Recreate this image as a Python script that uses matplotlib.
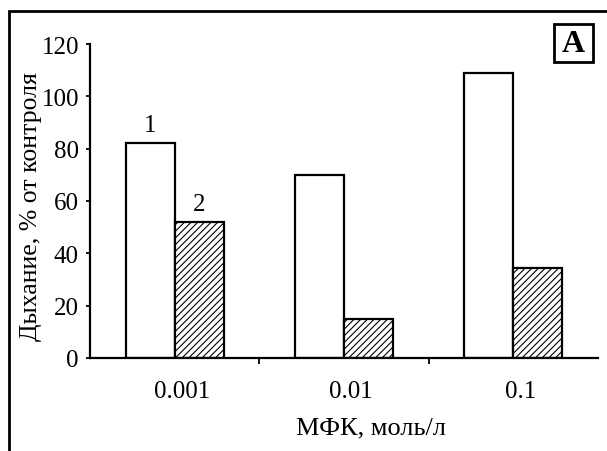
import numpy as np
import matplotlib
matplotlib.use("Agg")
import matplotlib.pyplot as plt
import matplotlib.transforms as mtransforms
from matplotlib.patches import Rectangle

# DATA

categories = ["0.001", "0.01", "0.1"]
series_1 = [82, 70, 109]
series_2 = [52, 15, 34.5]
series_names = ["1", "2"]

plt.rcParams["font.family"] = ["Liberation Serif", "DejaVu Serif"]
plt.rcParams["hatch.linewidth"] = 0.8

fig = plt.figure(figsize=(6.07, 4.52), dpi=100)
ax = fig.add_axes([90 / 607, 1 - 359 / 452, 508 / 607, 314 / 452])

x = np.arange(len(categories))
w = 0.29

ax.bar(x - w / 2, series_1, w, color="white", edgecolor="black", linewidth=1.6)
ax.bar(x + w / 2, series_2, w, color="white", edgecolor="black", linewidth=1.6,
       hatch="/////")

# series numbers over first group
ax.annotate(series_names[0], (x[0] - w / 2, series_1[0]), xytext=(0, 5),
            textcoords="offset points", ha="center", va="bottom", fontsize=18)
ax.annotate(series_names[1], (x[0] + w / 2, series_2[0]), xytext=(0, 5),
            textcoords="offset points", ha="center", va="bottom", fontsize=18)

ax.set_xlim(-0.5, 2.5)
ax.set_ylim(0, 120)
ax.set_yticks(range(0, 121, 20))
ax.set_xticks([0.5, 1.5], minor=False)
ax.set_xticks(x, minor=True)
ax.set_xticklabels(["", ""])
ax.set_xticklabels(categories, minor=True)

ax.tick_params(axis="y", direction="out", length=3, width=1.3, pad=5, labelsize=18)
ax.tick_params(axis="x", which="major", direction="out", length=4, width=1.3)
ax.tick_params(axis="x", which="minor", length=0, pad=16, labelsize=18)

# category labels sit a little right of the group centres
shift = mtransforms.ScaledTranslation(0.07, 0, fig.dpi_scale_trans)
for lab in ax.get_xticklabels(minor=True):
    lab.set_transform(lab.get_transform() + shift)

for s in ["top", "right"]:
    ax.spines[s].set_visible(False)
for s in ["left", "bottom"]:
    ax.spines[s].set_linewidth(1.6)

ax.set_ylabel("Дыхание, % от контроля", fontsize=18.5)
ax.yaxis.set_label_coords(-0.094, 0.486)
ax.set_xlabel("МФК, моль/л", fontsize=19)
ax.xaxis.set_label_coords(0.553, -0.185)

# frame around the figure (cut at right and bottom)
fig.patches.append(Rectangle((9 / 607, -0.1), 1.2, 1 - 12 / 452 + 0.1,
                             transform=fig.transFigure, fill=False,
                             edgecolor="black", linewidth=2))

# panel letter
fig.patches.append(Rectangle((554 / 607, 1 - 63 / 452), 39 / 607, 38 / 452,
                             transform=fig.transFigure, fill=False,
                             edgecolor="black", linewidth=2))
fig.text(573.5 / 607, 1 - 44 / 452, "A", ha="center", va="center",
         fontsize=23, fontweight="bold")

fig.savefig("out.png", dpi=100)
